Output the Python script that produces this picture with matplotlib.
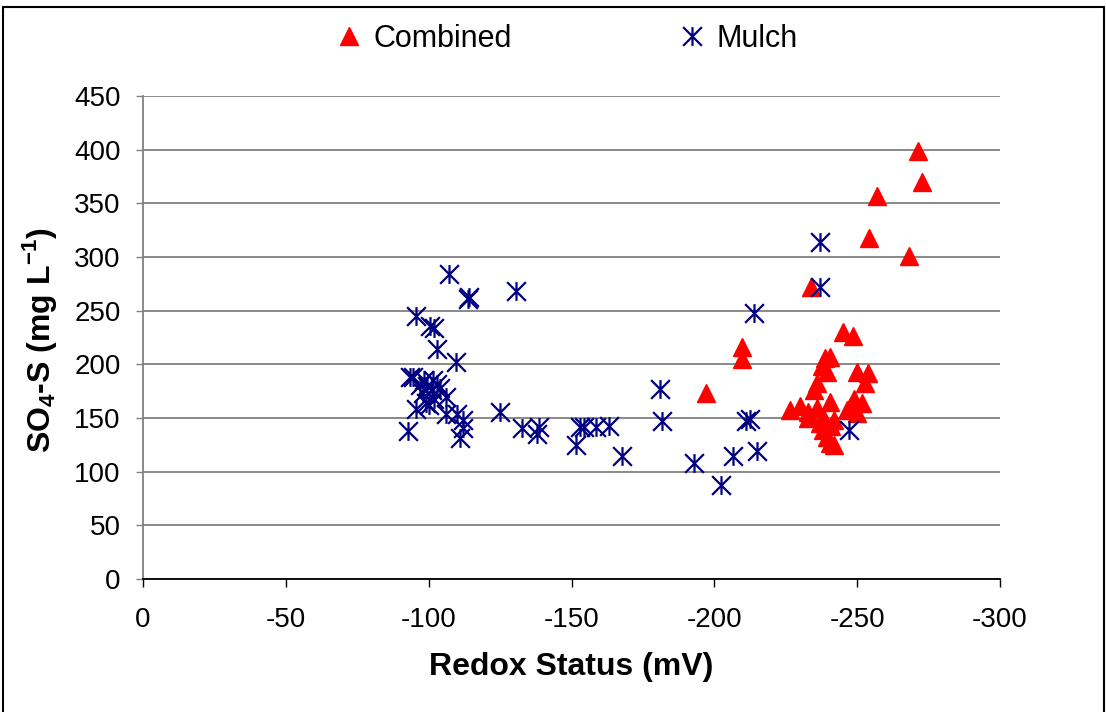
import matplotlib
matplotlib.use("Agg")
import matplotlib.pyplot as plt
from matplotlib.path import Path
from matplotlib.patches import Rectangle
from matplotlib.lines import Line2D

plt.rcParams['font.family'] = ['Liberation Sans', 'DejaVu Sans']
plt.rcParams['mathtext.fontset'] = 'custom'
plt.rcParams['mathtext.rm'] = 'Liberation Sans'
plt.rcParams['mathtext.bf'] = 'Liberation Sans:bold'

# ---- data ----
combined_x = [-197, -209.7, -209.7, -226.5, -230, -232.8, -232.8, -233.8, -236, -235,
              -236, -237.6, -238.7, -239.4, -240.5, -240.5, -238, -242, -238, -239.4,
              -240.5, -242, -245, -246.4, -247.5, -248.5, -249, -250, -250, -251.7,
              -252.7, -253.8, -254, -257, -268, -271.3, -272.7, -237, -241]
combined_y = [173, 216, 205, 157, 161, 156, 150, 272, 159, 176,
              183, 198, 206, 193, 207, 165, 151, 148, 139, 132,
              127, 125, 230, 157, 160, 226, 168, 155, 193, 164,
              183, 192, 318, 357, 301, 399, 370, 145, 143]

mulch_x = [-92.8, -93.5, -94.5, -95.5, -95.5, -97, -98, -99, -98.5, -100.5,
           -101.5, -102, -103, -103, -104, -106, -107, -106, -109.5, -110,
           -112, -111, -112, -113.8, -114.2, -125, -130.5, -132.5, -138, -138.6,
           -151.6, -153, -154.5, -158.6, -163, -167.7, -181, -181.7, -193, -202.5,
           -206.5, -211, -212.5, -214, -215, -237, -237, -247,
           -99.5, -101, -102, -100]
mulch_y = [138, 188, 188, 245, 158, 181, 173, 164, 185, 236,
           185, 234, 214, 182, 178, 154, 284, 170, 202, 154,
           148, 131, 141, 261, 263, 156, 268, 141, 135, 142,
           125, 142, 142, 142, 143, 115, 177, 147, 108, 88,
           115, 147, 149, 248, 119, 314, 272, 139,
           180, 176, 168, 162]

x_ticks = [0, -50, -100, -150, -200, -250, -300]
y_ticks = [0, 50, 100, 150, 200, 250, 300, 350, 400, 450]

W, H = 1106, 712
fig = plt.figure(figsize=(W / 100, H / 100), dpi=100)
ax = fig.add_axes([143 / W, 1 - 579 / H, (1000 - 143) / W, (579 - 96) / H])

# asterisk marker (vertical bar + X)
ast = Path([(0, -1), (0, 1), (-1, -1), (1, 1), (-1, 1), (1, -1)],
           [Path.MOVETO, Path.LINETO, Path.MOVETO, Path.LINETO, Path.MOVETO, Path.LINETO])

red = '#FF0000'
navy = '#000080'
tri_ms = 13
ast_ms = 13.5
ax.plot(combined_x, combined_y, linestyle='none', marker='^', ms=tri_ms,
        color=red, mec=red, zorder=3)
ax.plot(mulch_x, mulch_y, linestyle='none', marker=ast, ms=ast_ms,
        mfc='none', mec=navy, mew=1.6, zorder=4)

ax.set_xlim(0, -300)
ax.set_ylim(0, 450)
ax.set_xticks(x_ticks)
ax.set_yticks(y_ticks)
ax.set_xticklabels([str(v) for v in x_ticks])
ax.set_yticklabels([str(v) for v in y_ticks])
ax.tick_params(axis='x', direction='out', length=6, width=1, pad=14, labelsize=20, color='black')
ax.tick_params(axis='y', direction='out', length=5, width=1, pad=11, labelsize=20, color='#808080')

ax.grid(axis='y', color='#808080', lw=1.3)
ax.set_axisbelow(True)
for s in ['top', 'right']:
    ax.spines[s].set_visible(False)
ax.spines['left'].set_color('#808080')
ax.spines['left'].set_linewidth(1.3)
ax.spines['bottom'].set_color('black')
ax.spines['bottom'].set_linewidth(1.3)

ax.set_xlabel('Redox Status (mV)', fontsize=23, fontweight='bold', labelpad=14)
fig.text(40 / W, 1 - 340 / H, r'SO$_{\mathbf{4}}$-S (mg L$^{\mathbf{-1}}$)', rotation=90,
         fontsize=23, fontweight='bold', ha='center', va='center')

handles = [Line2D([], [], linestyle='none', marker='^', ms=tri_ms, color=red),
           Line2D([], [], linestyle='none', marker=ast, ms=ast_ms, mfc='none', mec=navy, mew=1.6)]
fig.legend(handles, ['Combined', 'Mulch'], loc='center', ncol=2, frameon=False,
           bbox_to_anchor=(566 / W, 1 - 39 / H), fontsize=22, columnspacing=5.4,
           handletextpad=0.3, handlelength=1.0)

# outer frame
fig.patches.append(Rectangle((3 / W, -0.1), (1104 - 3) / W, 1.1 - 7 / H,
                             transform=fig.transFigure, fill=False, ec='black', lw=1.5))

fig.savefig('out.png', dpi=100)
